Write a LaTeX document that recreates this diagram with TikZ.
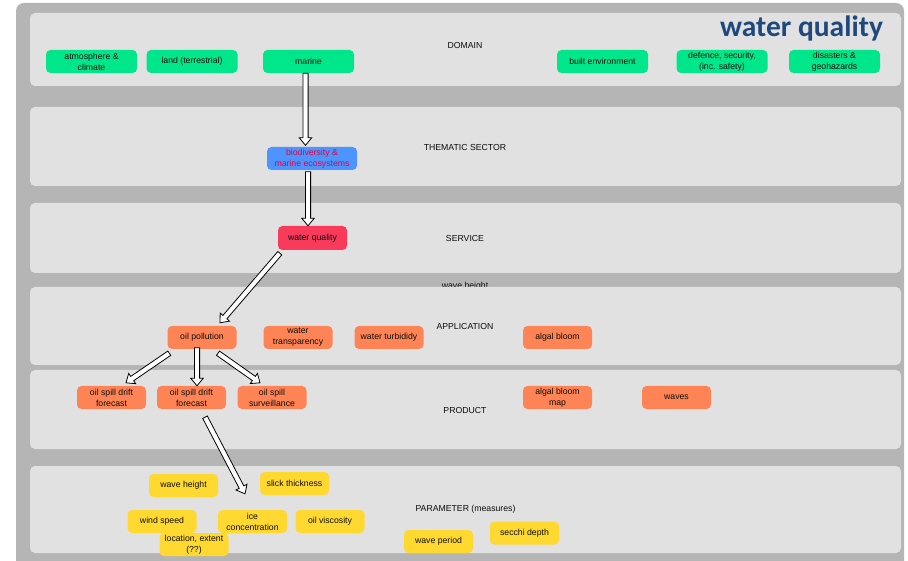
\documentclass[tikz,border=0pt]{standalone}
\usepackage{fontspec}
\setmainfont{Liberation Sans}
\newfontfamily\titlefont{Carlito}
\usetikzlibrary{calc}

\definecolor{panelgray}{HTML}{B5B5B5}
\definecolor{bandgray}{HTML}{E1E1E1}
\definecolor{domaingreen}{HTML}{00E68A}
\definecolor{sectorblue}{HTML}{4D94FF}
\definecolor{sectortext}{HTML}{E8003C}
\definecolor{servicered}{HTML}{F83A5B}
\definecolor{apporange}{HTML}{FF8455}
\definecolor{paramyellow}{HTML}{FFD930}
\definecolor{titleblue}{HTML}{1F497D}

% hollow block arrow from #1 to #2 (tip at #2)
\newcommand\hollowarrow[2]{%
  \coordinate (ha-base) at ($(#2)!7.5pt!(#1)$);
  \filldraw[arrowbody]
    ($(#1)!2.6pt!90:(#2)$) -- ($(ha-base)!2.6pt!90:(#2)$) --
    ($(ha-base)!6.2pt!90:(#2)$) -- (#2) --
    ($(ha-base)!6.2pt!-90:(#2)$) -- ($(ha-base)!2.6pt!-90:(#2)$) --
    ($(#1)!2.6pt!-90:(#2)$) -- cycle;
}

\begin{document}
\begin{tikzpicture}[x=1pt,y=-1pt,
  every node/.style={font=\fontsize{8.7}{11}\selectfont, text=black!95},
  band/.style={fill=bandgray, rounded corners=5pt},
  boxbase/.style={rounded corners=4.5pt, inner sep=0pt, align=center},
  gbox/.style={boxbase, fill=domaingreen, minimum width=91pt, minimum height=23pt},
  bbox/.style={boxbase, fill=sectorblue, minimum width=90pt, minimum height=23pt, text=sectortext},
  rbox/.style={boxbase, fill=servicered, minimum width=69pt, minimum height=24pt},
  obox/.style={boxbase, fill=apporange, minimum width=69pt, minimum height=23pt},
  ybox/.style={boxbase, fill=paramyellow, minimum width=69pt, minimum height=23pt},
  layer/.style={anchor=center},
  arrowbody/.style={fill=white, draw=black, line width=0.8pt, line join=miter},
]
\useasboundingbox (0,0) rectangle (908,561);
\clip (0,0) rectangle (908,561);
\fill[white] (0,0) rectangle (908,561);

% outer panel
\fill[panelgray, rounded corners=8pt] (16,3) rectangle (904,575);

% stray label partly hidden behind the application band
\node[anchor=base] (strayLabel) at (465,288.5) {wave height};

% layer bands
\fill[band] (30,13) rectangle (901,86);
\fill[band] (30,107) rectangle (901,186);
\fill[band] (30,203) rectangle (901,273);
\fill[band] (30,287) rectangle (901,365);
\fill[band] (30,370) rectangle (901,449);
\fill[band] (30,466) rectangle (901,553);

% layer captions
\node[layer] (lDomain) at (465,45.5) {DOMAIN};
\node[layer] (lSector) at (465,147.5) {THEMATIC SECTOR};
\node[layer] (lService) at (465,238.5) {SERVICE};
\node[layer] (lApp) at (465,326.5) {APPLICATION};
\node[layer] (lProduct) at (465,410.5) {PRODUCT};
\node[layer] (lParam) at (465.5,509.5) {PARAMETER (measures)};

% title
\node[anchor=base east, font=\titlefont\bfseries\fontsize{29.5}{31}\selectfont, text=titleblue]
  (title) at (886.5,37) {water quality};

% domain
\node[gbox] (atm) at (91.5,61.5) {atmosphere \&\\climate};
\node[gbox] (land) at (192,61.5) {land (terrestrial)};
\node[gbox] (marine) at (308.5,61.5) {marine};
\node[gbox] (built) at (602.5,61.5) {built environment};
\node[gbox] (defence) at (722,61.5) {defence, security,\\(inc. safety)};
\node[gbox] (disasters) at (834.5,61.5) {disasters \&\\geohazards};

% thematic sector
\node[bbox] (bio) at (312,158.5) {biodiversity \&\\marine ecosystems};

% service
\node[rbox] (wq) at (312.5,238) {water quality};

% application
\node[obox] (oilpol) at (202,337.5) {oil pollution};
\node[obox] (transp) at (298,337.5) {water\\transparency};
\node[obox] (turb) at (389,337.5) {water turbididy};
\node[obox] (algal) at (557.5,337.5) {algal bloom};

% product
\node[obox] (driftA) at (111.5,397.5) {oil spill drift\\forecast};
\node[obox] (driftB) at (191.5,397.5) {oil spill drift\\forecast};
\node[obox] (surv) at (272,397.5) {oil spill\\surveillance};
\node[obox] (algalmap) at (557.5,397.5) {algal bloom\\map};
\node[obox] (waves) at (676.5,397.5) {waves};

% parameters
\node[ybox] (waveh) at (183.5,485.5) {wave height};
\node[ybox] (slick) at (294.5,483.5) {slick thickness};
\node[ybox] (wind) at (162,521.5) {wind speed};
\node[ybox] (ice) at (252.5,521.5) {ice\\concentration};
\node[ybox] (visc) at (330,521.5) {oil viscosity};
\node[ybox] (loc) at (194,544.5) {location, extent\\(??)};
\node[ybox] (wperiod) at (438.5,541.5) {wave period};
\node[ybox] (secchi) at (524.5,533) {secchi depth};

% connector end points
\coordinate (a1s) at ($(marine.south)+(-3,0)$);
\coordinate (a1e) at ($(bio.north)+(-6.5,-1.5)$);
\coordinate (a2s) at ($(bio.south)+(-4,1.5)$);
\coordinate (a2e) at ($(wq.north)+(-4.5,0)$);
\coordinate (a3s) at ($(wq.south west)+(2,3)$);
\coordinate (a3e) at ($(oilpol.north)+(18,-3)$);
\coordinate (a4s) at ($(oilpol.south west)+(2,4)$);
\coordinate (a4e) at ($(driftA.north)+(14.5,-3)$);
\coordinate (a5s) at ($(oilpol.south)+(-5,-1.5)$);
\coordinate (a5e) at ($(driftB.north)+(5.5,0)$);
\coordinate (a6s) at ($(oilpol.south)+(16,4)$);
\coordinate (a6e) at ($(surv.north)+(-12,-3)$);
\coordinate (a7s) at ($(driftB.south)+(13.5,8)$);
\coordinate (a7e) at ($(ice.north)+(-7.5,-16)$);

% connectors
\hollowarrow{a1s}{a1e}
\hollowarrow{a2s}{a2e}
\hollowarrow{a3s}{a3e}
\hollowarrow{a4s}{a4e}
\hollowarrow{a5s}{a5e}
\hollowarrow{a6s}{a6e}
\hollowarrow{a7s}{a7e}
\end{tikzpicture}
\end{document}
